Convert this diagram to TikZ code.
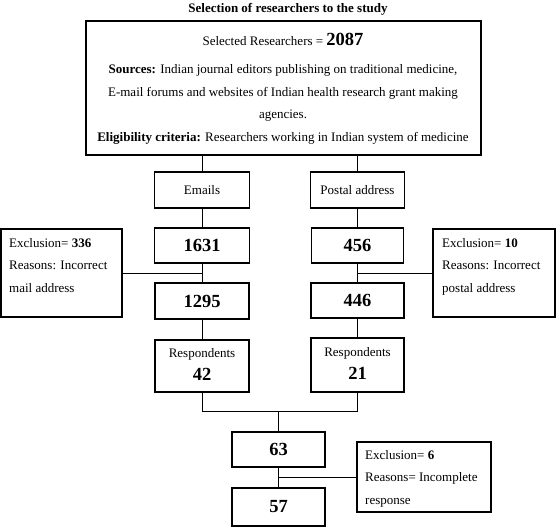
\documentclass[tikz,border=0pt]{standalone}
\usepackage{fontspec}
\setmainfont{Liberation Serif}
\begin{document}
\begin{tikzpicture}[x=1pt,y=-1pt,
  box/.style={draw, line width=1.3pt, inner sep=0pt},
  conn/.style={line width=0.9pt},
  txt/.style={inner sep=0pt, font=\fontsize{13}{22.5}\selectfont},
  big/.style={font=\fontsize{18.5}{20}\selectfont\bfseries},
  ttl/.style={inner sep=0pt, font=\fontsize{13}{15}\selectfont\bfseries}
]
\useasboundingbox (0,0) rectangle (556,528);
\node[ttl, anchor=base] (title) at (288,12) {Selection of researchers to the study};
% main box
\node[box, minimum width=395pt, minimum height=134pt] (main) at (283.5,88) {};
\node[txt, anchor=base] (m1) at (283,45) {Selected Researchers = {\fontsize{18.5}{20}\selectfont\bfseries 2087}};
\node[txt, anchor=base] (m2) at (283,73) {\textbf{Sources:} Indian journal editors publishing on traditional medicine,};
\node[txt, anchor=base] (m3) at (283,96) {E-mail forums and websites of Indian health research grant making};
\node[txt, anchor=base] (m4) at (283,118) {agencies.};
\node[txt, anchor=base] (m5) at (283,141) {\textbf{Eligibility criteria:} Researchers working in Indian system of medicine};
% branches
\node[box, txt, minimum width=95pt, minimum height=36pt] (emails) at (202,190) {Emails};
\node[box, txt, minimum width=94pt, minimum height=36pt] (postal) at (357.5,190) {Postal address};
\node[box, big, minimum width=95pt, minimum height=35pt] (n1631) at (202,245.5) {1631};
\node[box, big, minimum width=92pt, minimum height=35pt] (n456) at (357.5,245.5) {456};
\node[box, big, minimum width=94pt, minimum height=36pt] (n1295) at (202,301) {1295};
\node[box, big, minimum width=93pt, minimum height=35pt] (n446) at (357.5,300.5) {446};
% exclusion boxes
\node[box, minimum width=121pt, minimum height=88pt] (exL) at (61.5,273) {};
\node[txt, anchor=base west, align=left] (exLt) at (9,292) {Exclusion= \textbf{336}\\Reasons: Incorrect\\mail address};
\node[box, minimum width=122pt, minimum height=88pt] (exR) at (494,273) {};
\node[txt, anchor=base west, align=left] (exRt) at (442,292) {Exclusion= \textbf{10}\\Reasons: Incorrect\\postal address};
% respondents
\node[box, minimum width=94pt, minimum height=52pt] (r42) at (202,366) {};
\node[txt, anchor=base] (r42a) at (202,357) {Respondents};
\node[big, inner sep=0pt, anchor=base] (r42b) at (202,380) {42};
\node[box, minimum width=93pt, minimum height=54pt] (r21) at (357.5,365) {};
\node[txt, anchor=base] (r21a) at (357.5,356) {Respondents};
\node[big, inner sep=0pt, anchor=base] (r21b) at (357.5,379) {21};
% bottom
\node[box, big, minimum width=93pt, minimum height=35pt] (n63) at (278.5,449.5) {63};
\node[box, big, minimum width=93pt, minimum height=38pt] (n57) at (278.5,507) {57};
\node[box, minimum width=134pt, minimum height=70pt] (ex6) at (424,477) {};
\node[txt, anchor=base west, align=left] (ex6t) at (365,504) {Exclusion= \textbf{6}\\Reasons= Incomplete\\response};
\coordinate (join) at (278.5,411);
% connectors
\draw[conn] (emails.north) -- (emails.north |- main.south);
\draw[conn] (postal.north) -- (postal.north |- main.south);
\draw[conn] (emails) -- (n1631);
\draw[conn] (postal) -- (n456);
\draw[conn] (n1631) -- (n1295);
\draw[conn] (n456) -- (n446);
\draw[conn] (exL.east) -- (exL.east -| n1295.north);
\draw[conn] (exR.west) -- (exR.west -| n446.north);
\draw[conn] (n1295) -- (r42);
\draw[conn] (n446) -- (r21);
\draw[conn] (r42.south) |- (join) -| (r21.south);
\draw[conn] (join) -- (n63.north);
\draw[conn] (n63) -- (n57);
\draw[conn] (ex6.west) -- (ex6.west -| n63.south);
\end{tikzpicture}
\end{document}
